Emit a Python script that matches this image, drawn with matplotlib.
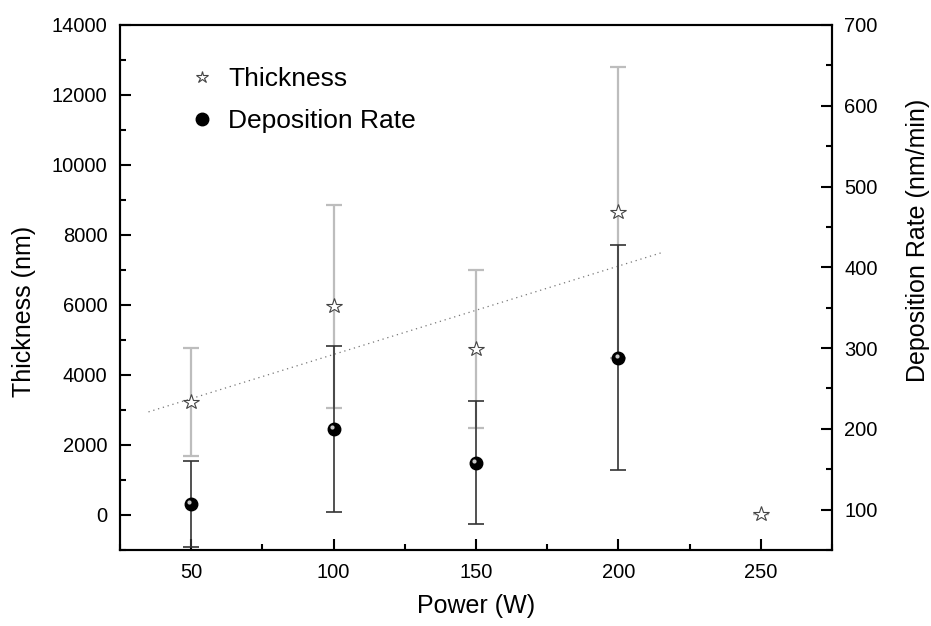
import matplotlib
matplotlib.use("Agg")
import matplotlib.pyplot as plt
from matplotlib.lines import Line2D
from matplotlib.ticker import MultipleLocator
from matplotlib.transforms import offset_copy

plt.rcParams["font.family"] = ["Liberation Sans", "DejaVu Sans"]

# values
power = [50, 100, 150, 200, 250]
thickness = [3230, 5970, 4740, 8645, 30]
thickness_err = [1555, 2900, 2250, 4150, 0]

rate_power = [50, 100, 150, 200]
rate = [107, 200, 158, 288]
rate_err = [53, 103, 76, 139]

trend_power = [35, 215]
trend_thickness = [2946, 7491]


def main():
    fig = plt.figure(figsize=(9.31, 6.26), dpi=100)
    ax = fig.add_axes([120 / 931, 76 / 626, 712 / 931, 525 / 626])
    ax2 = ax.twinx()

    # thickness on the left axis
    ax.plot(trend_power, trend_thickness, ls=(0, (1, 3)), color="#777777", lw=0.9, zorder=1)
    ax.errorbar(power, thickness, yerr=thickness_err, fmt="none", ecolor="#bdbdbd",
                elinewidth=1.6, capsize=6, capthick=1.6, zorder=2)
    ax.plot(power, thickness, ls="none", marker="*", ms=11.5, mfc="white", mec="#444444",
            mew=0.8, zorder=3)

    # deposition rate on the right axis
    ax2.errorbar(rate_power, rate, yerr=rate_err, fmt="none", ecolor="#333333",
                 elinewidth=1.2, capsize=6, capthick=1.2, zorder=2)
    ax2.plot(rate_power, rate, ls="none", marker="o", ms=9, mfc="black", mec="black", zorder=3)
    shine = offset_copy(ax2.transData, fig=fig, x=-1.3, y=1.3, units="points")
    ax2.plot(rate_power, rate, ls="none", marker="o", ms=3, mfc="#c8c8c8", mec="none",
             transform=shine, zorder=4)

    ax.set_xlim(25, 275)
    ax.set_ylim(-1000, 14000)
    ax2.set_ylim(50, 700)

    ax.xaxis.set_major_locator(MultipleLocator(50))
    ax.xaxis.set_minor_locator(MultipleLocator(25))
    ax.yaxis.set_major_locator(MultipleLocator(2000))
    ax.yaxis.set_minor_locator(MultipleLocator(1000))
    ax2.yaxis.set_major_locator(MultipleLocator(100))
    ax2.yaxis.set_minor_locator(MultipleLocator(50))

    for a in (ax, ax2):
        a.tick_params(which="major", direction="in", length=8, width=1.5, labelsize=14.5, pad=9)
        a.tick_params(which="minor", direction="in", length=4.5, width=1.5)
        for s in a.spines.values():
            s.set_linewidth(1.5)
    ax.tick_params(top=False, right=False, which="both")

    ax.set_xlabel("Power (W)", fontsize=18)
    ax.set_ylabel("Thickness (nm)", fontsize=18)
    ax2.set_ylabel("Deposition Rate (nm/min)", fontsize=18)
    ax.xaxis.set_label_coords(0.5, -0.107)
    ax.yaxis.set_label_coords(-0.135, 0.455)
    ax2.yaxis.set_label_coords(1.121, 0.59)
    for lab in (ax.xaxis.label, ax.yaxis.label, ax2.yaxis.label):
        lab.set_va("center")

    handles = [
        Line2D([], [], ls="none", marker="*", ms=9, mfc="white", mec="#444444", mew=0.8),
        Line2D([], [], ls="none", marker="o", ms=9, mfc="black", mec="black"),
    ]
    ax2.legend(handles, ["Thickness", "Deposition Rate"], loc="upper left",
               bbox_to_anchor=(188.5 / 931, 1 - 67 / 626), bbox_transform=fig.transFigure,
               frameon=False, fontsize=19, handlelength=1.0, handletextpad=0.5,
               labelspacing=0.7, borderpad=0, borderaxespad=0)

    fig.savefig("out.png", dpi=100)


if __name__ == "__main__":
    main()
